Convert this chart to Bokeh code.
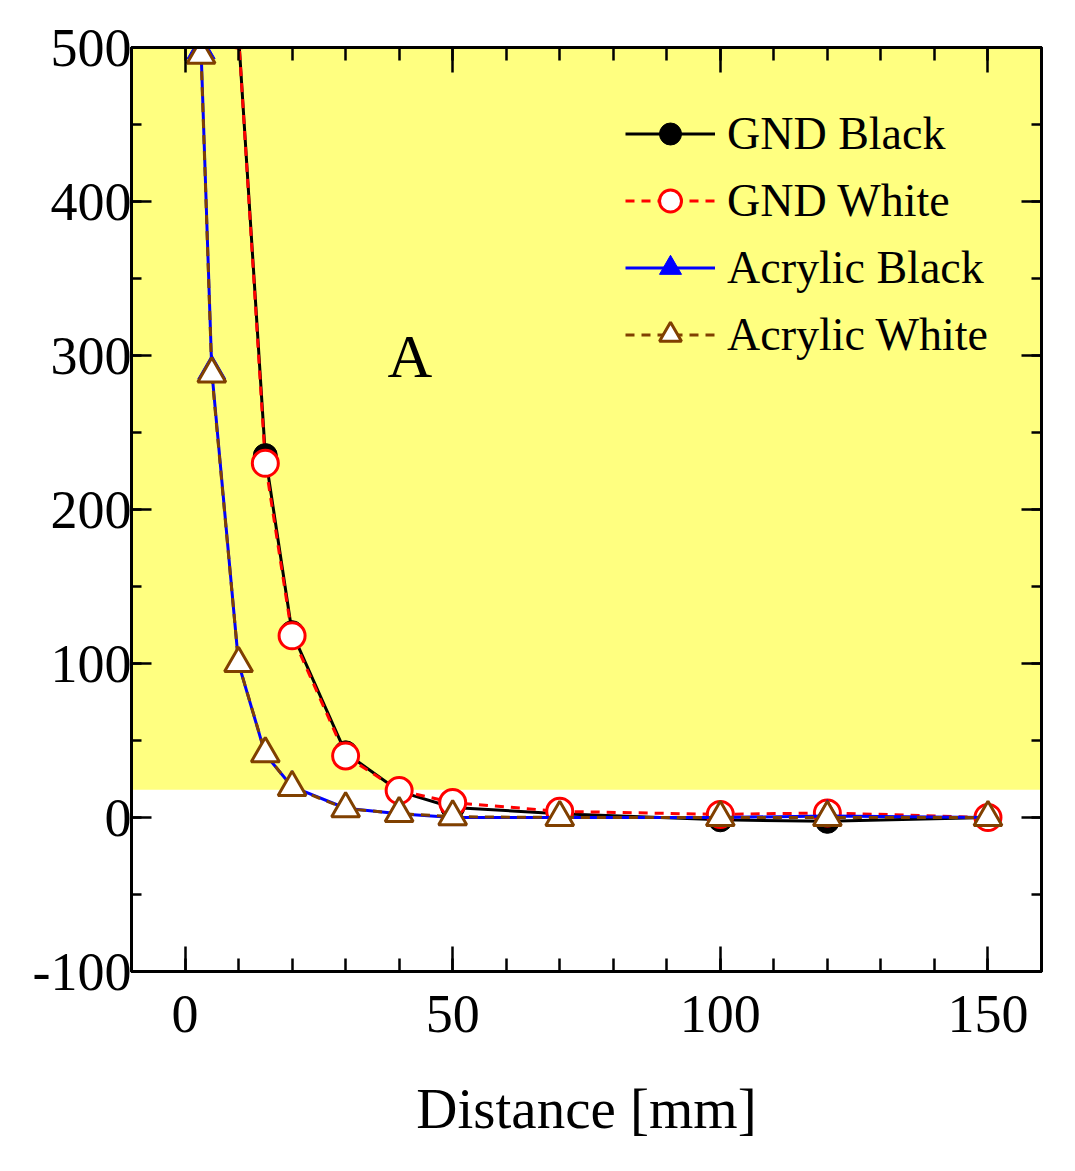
from bokeh.plotting import figure
from bokeh.models import (Range1d, LinearAxis, SingleIntervalTicker, BoxAnnotation,
                          Legend, LegendItem, Label, CustomLabelingPolicy)
from bokeh.embed import file_html
from bokeh.resources import INLINE

nan = float("nan")

# ---- data ----
distance = [3, 5, 10, 15, 20, 30, 40, 50, 70, 100, 120, 150]
gnd_black = [nan, nan, 508, 235, 120, 42, 17, 6.5, 2.5, -1.5, -2.5, 0]
gnd_white = [nan, nan, 508, 230, 118, 40, 17.5, 9.7, 4, 2, 3, 0]
acrylic_black = [498, 290, 100, 41, 20, 6, 2.5, 0, 0, 0, 1, 0]
acrylic_white = [495, 288, 100, 41.5, 19.5, 5.8, 2.6, 0.5, 0, 0, 0, 0]
series_names = ["GND Black", "GND White", "Acrylic Black", "Acrylic White"]
region_a_bottom = 18
region_a_top = 500
region_label = "A"
x_label = "Distance [mm]"

FONT = "Liberation Serif"

p = figure(width=1068, height=1163, output_backend="svg", toolbar_location=None,
           x_range=Range1d(-10, 160), y_range=Range1d(-100, 500),
           x_axis_location=None, y_axis_location=None,
           min_border_left=131, min_border_right=27, min_border_top=47,
           min_border_bottom=192)
p.xgrid.visible = False
p.ygrid.visible = False
p.outline_line_color = "black"
p.outline_line_width = 3
p.background_fill_color = "white"

# yellow region A
p.add_layout(BoxAnnotation(bottom=region_a_bottom, top=region_a_top,
                           fill_color="#FFFF80", fill_alpha=1.0, line_alpha=0,
                           level="underlay"))

no_labels = CustomLabelingPolicy(code="""
try { return new indices.constructor(indices.size, 0) } catch (e) {}
for (const i of [...indices.ones()]) indices.unset(i)
return indices
""")


def make_axis(kind, loc, labels):
    if kind == "x":
        tk = SingleIntervalTicker(interval=50, num_minor_ticks=5)
        maj, mnr = 25, 13
    else:
        tk = SingleIntervalTicker(interval=100, num_minor_ticks=2)
        maj, mnr = 20, 10
    ax = LinearAxis(ticker=tk)
    ax.axis_line_width = 3
    ax.axis_line_color = "black"
    ax.major_tick_in = maj
    ax.major_tick_out = 0
    ax.minor_tick_in = mnr
    ax.minor_tick_out = 0
    ax.major_tick_line_width = 2.5
    ax.minor_tick_line_width = 2.5
    ax.major_tick_line_color = "black"
    ax.minor_tick_line_color = "black"
    ax.major_label_text_font = FONT
    ax.major_label_text_color = "black"
    if labels:
        ax.major_label_text_font_size = "54px"
    else:
        ax.major_label_text_font_size = "10px"
        ax.major_label_policy = no_labels
        ax.major_label_standoff = 0
    p.add_layout(ax, loc)
    return ax


xb = make_axis("x", "below", True)
xb.major_label_standoff = 24
xb.axis_label = x_label
xb.axis_label_text_font = FONT
xb.axis_label_text_font_size = "57px"
xb.axis_label_text_font_style = "normal"
xb.axis_label_text_color = "black"
xb.axis_label_standoff = 42
yl = make_axis("y", "left", True)
yl.major_label_standoff = 0
yl.major_label_overrides = {-100: "-100"}
make_axis("x", "above", False)
make_axis("y", "right", False)

# series
r_gb_line = p.line(distance, gnd_black, line_color="black", line_width=3)
r_gb_pt = p.scatter(distance, gnd_black, marker="circle", size=24,
                    fill_color="black", line_color="black")
r_gw_line = p.line(distance, gnd_white, line_color="red", line_width=3,
                   line_dash="9 7")
r_gw_pt = p.scatter(distance, gnd_white, marker="circle", size=26,
                    fill_color="white", line_color="red", line_width=3)
r_ab_line = p.line(distance, acrylic_black, line_color="blue", line_width=3)
r_ab_pt = p.scatter(distance, acrylic_black, marker="triangle", size=28,
                    fill_color="blue", line_color="blue")
r_aw_line = p.line(distance, acrylic_white, line_color="#804000", line_width=3,
                   line_dash="9 7")
r_aw_pt = p.scatter(distance, acrylic_white, marker="triangle", size=28,
                    fill_color="white", line_color="#804000", line_width=3)

p.add_layout(Label(x=42, y=300, text=region_label, text_align="center",
                   text_baseline="middle", text_font=FONT,
                   text_font_size="62px", text_color="black"))

legend = Legend(items=[
    LegendItem(label=series_names[0], renderers=[r_gb_line, r_gb_pt]),
    LegendItem(label=series_names[1], renderers=[r_gw_line, r_gw_pt]),
    LegendItem(label=series_names[2], renderers=[r_ab_line, r_ab_pt]),
    LegendItem(label=series_names[3], renderers=[r_aw_line, r_aw_pt]),
], location=(494, 609))
legend.glyph_width = 90
legend.glyph_height = 55
legend.label_height = 55
legend.spacing = 12
legend.padding = 0
legend.margin = 0
legend.label_standoff = 12
legend.label_text_font = FONT
legend.label_text_font_size = "46px"
legend.label_text_color = "black"
legend.background_fill_alpha = 0
legend.border_line_alpha = 0
p.add_layout(legend, "center")

open("out.html", "w").write(file_html(p, INLINE))
